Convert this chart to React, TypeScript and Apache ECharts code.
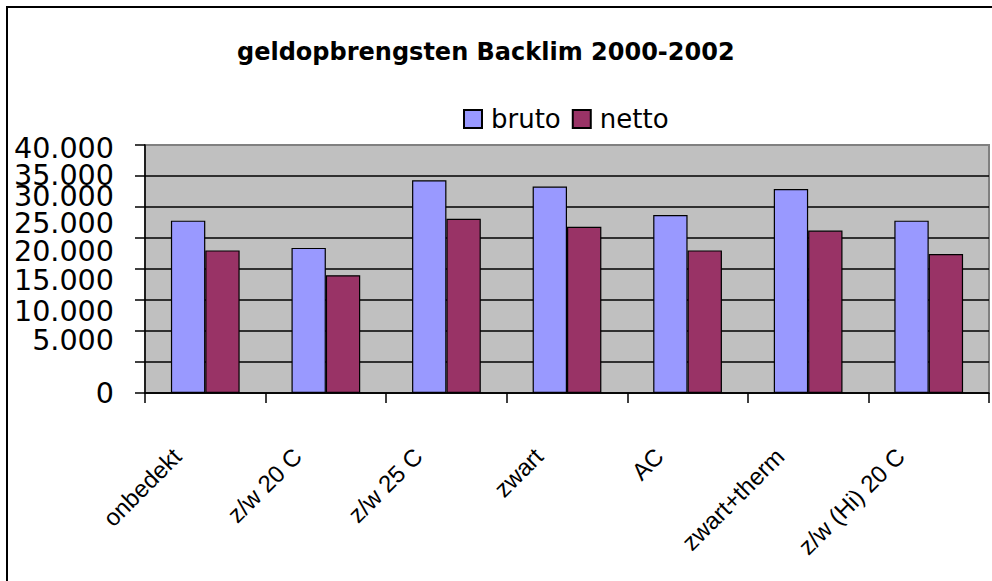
import React, { useEffect, useRef } from "react";
import * as echarts from "echarts";

const titleText = "geldopbrengsten Backlim 2000-2002";
const categories = ["onbedekt", "z/w 20 C", "z/w 25 C", "zwart", "AC", "zwart+therm", "z/w (Hi) 20 C"];
const seriesNames = ["bruto", "netto"];
const bruto = [27800, 23400, 34300, 33300, 28700, 32900, 27800];
const netto = [23000, 19000, 28100, 26800, 23000, 26200, 22400];
const yTickValues = [0, 5000, 10000, 15000, 20000, 25000, 30000, 35000, 40000];
const yTickLabels = ["0", "5.000", "10.000", "15.000", "20.000", "25.000", "30.000", "35.000", "40.000"];
// vertical nudge of each y tick label (px, negative = up), as in the reference
const yLabelShift = [0, -21.5, -20.5, -20.5, -18, -14.5, -11, -0.5, 3];

const H_FONT = "'DejaVu Sans', sans-serif";
const R_FONT = "'Liberation Sans', Arial, sans-serif";

const Y_MAX = 40000;
const PLOT_H = 248; // px height of the plot area

export default function App() {
  const ref = useRef<HTMLDivElement>(null);

  useEffect(() => {
    if (!ref.current) return;
    const chart = echarts.init(ref.current, null, { renderer: "svg" });

    const perPx = Y_MAX / PLOT_H;
    const labelValues = yTickValues.map((v, i) => Math.round(v - yLabelShift[i] * perPx));
    const labelFor = (v: number) => {
      let best = 0;
      let bestD = Infinity;
      labelValues.forEach((lv, i) => {
        const d = Math.abs(lv - v);
        if (d < bestD) {
          bestD = d;
          best = i;
        }
      });
      return yTickLabels[best];
    };
    const evenLabels = labelValues.filter((_, i) => i % 2 === 0);
    const oddLabels = labelValues.filter((_, i) => i % 2 === 1);
    const splitColors = yTickValues.map((_, i) => (i === yTickValues.length - 1 ? "#808080" : "#000"));

    const labelStyle = {
      show: true,
      showMinLabel: true,
      showMaxLabel: true,
      hideOverlap: false,
      margin: 31,
      fontFamily: H_FONT,
      fontSize: 28.6,
      lineHeight: 21,
      color: "#000",
      formatter: (v: number) => labelFor(v),
    };

    chart.setOption({
      animation: false,
      backgroundColor: "#fff",
      title: {
        text: titleText,
        left: 237,
        top: 40,
        padding: 0,
        textStyle: { fontFamily: H_FONT, fontSize: 24, fontWeight: "bold", color: "#000" },
      },
      legend: {
        data: seriesNames,
        left: 463,
        top: 106,
        padding: 0,
        itemWidth: 18,
        itemHeight: 18,
        itemGap: 11,
        icon: "rect",
        textStyle: { fontFamily: H_FONT, fontSize: 26, color: "#000", padding: [0, 0, 0, 4] },
      },
      grid: {
        left: 145,
        top: 145,
        right: 3,
        bottom: 188,
        show: true,
        backgroundColor: "#C0C0C0",
        borderColor: "#808080",
        borderWidth: 2,
      },
      xAxis: {
        type: "category",
        data: categories,
        boundaryGap: true,
        axisLine: { lineStyle: { color: "#000", width: 1.5 } },
        axisTick: { show: true, length: 10, lineStyle: { color: "#000", width: 1.5 } },
        axisLabel: {
          interval: 0,
          rotate: 45,
          margin: 31,
          fontFamily: R_FONT,
          fontSize: 24,
          color: "#000",
          padding: [0, 40, 0, 0],
        },
      },
      yAxis: [
        {
          type: "value",
          position: "left",
          min: 0,
          max: Y_MAX,
          interval: 5000,
          axisLine: { show: true, lineStyle: { color: "#000", width: 1.5 } },
          axisTick: { show: true, length: 10, lineStyle: { color: "#000", width: 1.5 } },
          splitLine: { show: true, showMaxLine: false, lineStyle: { color: splitColors, width: 1.5 } },
          axisLabel: { ...labelStyle, customValues: evenLabels },
        },
        {
          type: "value",
          position: "left",
          offset: 0,
          min: 0,
          max: Y_MAX,
          interval: 5000,
          axisLine: { show: false },
          axisTick: { show: false },
          splitLine: { show: false },
          axisLabel: { ...labelStyle, customValues: oddLabels },
        },
      ],
      graphic: [
        {
          type: "rect",
          shape: { x: 7, y: 7, width: 1000, height: 600 },
          style: { fill: "none", stroke: "#000", lineWidth: 2 },
          silent: true,
          z: 100,
        },
      ],
      series: [
        {
          name: seriesNames[0],
          type: "bar",
          yAxisIndex: 0,
          data: bruto,
          barGap: "0%",
          barCategoryGap: "43%",
          itemStyle: { color: "#9999FF", borderColor: "#000", borderWidth: 1.2 },
        },
        {
          name: seriesNames[1],
          type: "bar",
          yAxisIndex: 0,
          data: netto,
          barGap: "0%",
          barCategoryGap: "43%",
          itemStyle: { color: "#993366", borderColor: "#000", borderWidth: 1.2 },
        },
      ],
    });

    return () => chart.dispose();
  }, []);

  return (
    <div
      ref={ref}
      style={{ position: "fixed", left: 0, top: 0, width: 992, height: 581, background: "#fff" }}
    />
  );
}
